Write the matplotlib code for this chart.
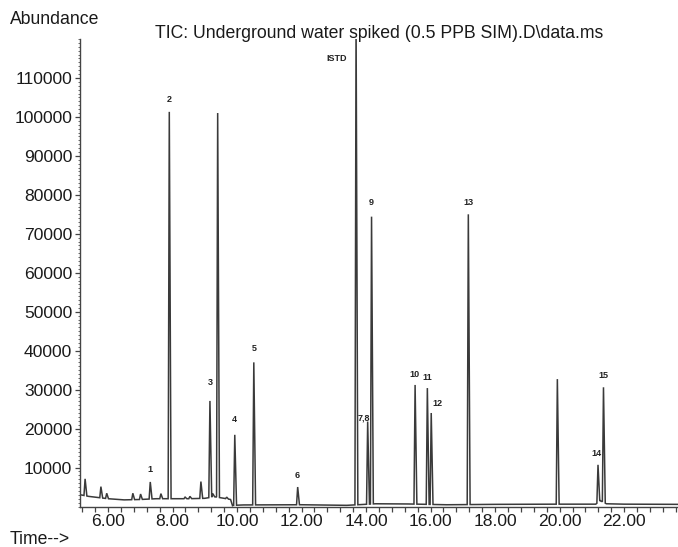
import numpy as np
import matplotlib
matplotlib.use("Agg")
import matplotlib.pyplot as plt
from matplotlib.ticker import MultipleLocator, FixedLocator

plt.rcParams['font.family'] = ['Liberation Sans', 'DejaVu Sans']

# baseline of the trace (time in min, abundance)
base_t = [5.15, 5.40, 5.70, 6.00, 6.50, 7.00, 7.50, 8.00, 8.50, 9.00, 9.30,
          9.60, 9.80, 9.86, 9.89, 10.20, 12.00, 13.40, 14.30, 15.30, 16.50,
          18.00, 20.00, 21.12, 21.26, 21.45, 22.00, 23.70]
base_y = [3000, 2600, 2300, 2000, 1700, 1800, 2000, 2000, 2000, 2100, 2500,
          2100, 1800, 200, 300, 400, 450, 300, 700, 650, 450,
          550, 600, 600, 1500, 700, 600, 550]

# peaks: retention time, apex height, label ('' = unlabeled)
peak_t = [5.29, 5.78, 5.96, 6.77, 7.01, 7.31, 7.64, 7.90, 8.39, 8.54, 8.88,
          9.16, 9.25, 9.40, 9.68, 9.93, 10.52, 11.88, 13.69, 14.05, 14.17,
          15.52, 15.90, 16.02, 17.17, 19.93, 21.19, 21.36]
peak_h = [7100, 5100, 3400, 3400, 3200, 6300, 3300, 101300, 2400, 2600, 6400,
          27100, 3300, 101000, 2400, 18400, 37000, 5000, 125000, 21800, 74400,
          31200, 30400, 24000, 75000, 32700, 10700, 30600]
peak_lab = ['', '', '', '', '', '1', '', '2', '', '', '',
            '3', '', '', '', '4', '5', '6', 'ISTD', '7,8', '9',
            '10', '11', '12', '13', '', '14', '15']

# label offsets in pixels from the apex
lab_off = {'3': (0, 18), '4': (0, 15), '5': (0, 14), '9': (0, 14),
           'ISTD': (-19, -20), '7,8': (-4, 4), '12': (6, 10), '14': (-2, 11),
           '10': (-1, 10), '11': (0, 11)}

ylim_top = 120000
w_left, w_right = 0.035, 0.055

# build the polyline: baseline points plus a triangle for every peak
pts = list(zip(base_t, base_y))
for t, h in zip(peak_t, peak_h):
    b0 = np.interp(t - w_left, base_t, base_y)
    b1 = np.interp(t + w_right, base_t, base_y)
    pts += [(t - w_left, b0), (t, h), (t + w_right, b1)]


def inside(x):
    return any(t - w_left < x < t + w_right for t in peak_t)


# drop baseline points that fall inside a peak
pts = [p for p in pts if not (p[0] in base_t and inside(p[0]))]
pts.sort(key=lambda p: p[0])
tr_t = [p[0] for p in pts]
tr_y = [p[1] for p in pts]

fig = plt.figure(figsize=(6.78, 5.47), dpi=100)
ax = fig.add_axes([80 / 678, 1 - 506.5 / 547, 1 - 80 / 678, (506.5 - 39) / 547])

ax.plot(tr_t, tr_y, color='#3a3a3a', lw=1.1, solid_joinstyle='miter')

ax.set_xlim(5.132, 23.67)
ax.set_ylim(0, ylim_top)

for t, h, lab in zip(peak_t, peak_h, peak_lab):
    if not lab:
        continue
    dx, dy = lab_off.get(lab, (0, 12))
    ax.annotate(lab, xy=(t, min(h, ylim_top)), xytext=(dx, dy),
                textcoords='offset pixels', ha='center', va='center',
                fontsize=6.5, fontweight='bold', color='#222222',
                annotation_clip=False)

for s in ['top', 'right']:
    ax.spines[s].set_visible(False)
for s in ['left', 'bottom']:
    ax.spines[s].set_color('#444444')
    ax.spines[s].set_linewidth(1.0)

ax.set_xticks(np.arange(6, 23, 2))
ax.set_xticklabels(['%.2f' % v for v in np.arange(6, 23, 2)])
ax.xaxis.set_minor_locator(FixedLocator(np.arange(5.2, 23.7, 0.4)))
ax.set_yticks(np.arange(10000, 110001, 10000))
ax.yaxis.set_minor_locator(MultipleLocator(1000))

ax.tick_params(axis='both', which='major', labelsize=12.6, colors='#444444',
               labelcolor='#1a1a1a', length=3.5, width=0.9, pad=2)
ax.tick_params(axis='x', which='minor', length=3.5, width=0.9, colors='#444444')
ax.tick_params(axis='y', which='minor', length=1.8, width=0.6, colors='#555555')

fig.text(379 / 678, 1 - 33 / 547, r'TIC: Underground water spiked (0.5 PPB SIM).D\data.ms',
         ha='center', va='center', fontsize=12.7, color='#1a1a1a')
fig.text(10 / 678, 1 - 19 / 547, 'Abundance', ha='left', va='center',
         fontsize=12.7, color='#1a1a1a')
fig.text(10 / 678, 1 - 540 / 547, 'Time-->', ha='left', va='center',
         fontsize=12.7, color='#1a1a1a')

fig.savefig('out.png', dpi=100)
